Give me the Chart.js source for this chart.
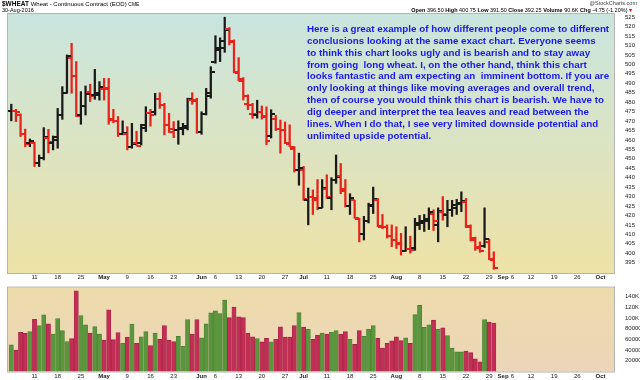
<!DOCTYPE html>
<html><head><meta charset="utf-8">
<script src="https://cdn.jsdelivr.net/npm/chart.js@4.4.0/dist/chart.umd.min.js"></script>
<style>
html,body{margin:0;padding:0;background:#fff;width:640px;height:380px;overflow:hidden;font-family:"Liberation Sans",Arial,sans-serif;}
#wrap{position:relative;width:640px;height:380px;}
canvas{position:absolute;left:0;}
#c1{top:0;}
#c2{top:281px;}
.t{position:absolute;white-space:pre;color:#000;line-height:1;}
#note{position:absolute;left:307px;top:23px;color:#1a1ae8;font:bold 9.8px "Liberation Sans",Arial,sans-serif;line-height:11.85px;white-space:pre;}
</style></head>
<body><div id="wrap">
<canvas id="c1" width="640" height="281" style="width:640px;height:281px"></canvas>
<canvas id="c2" width="640" height="99" style="width:640px;height:99px"></canvas>
<div class="t" style="left:2px;top:1px;font-size:6px"><b style="font-size:6.5px">$WHEAT</b> Wheat - Continuous Contract (EOD) <span style="font-size:5px">CME</span></div>
<div class="t" style="left:2px;top:8px;font-size:5.5px">30-Aug-2016</div>
<div class="t" style="right:3px;top:1px;font-size:5.5px;color:#444">@StockCharts.com</div>
<div class="t" style="right:8px;top:8px;font-size:5.5px"><b>Open</b> 396.50 <b>High</b> 400.75 <b>Low</b> 391.50 <b>Close</b> 392.25 <b>Volume</b> 90.6K <b>Chg</b> -4.75 (-1.20%) <span style="color:#d00">&#9662;</span></div>
<div id="note">Here is a great example of how different people come to different
conclusions looking at the same exact chart. Everyone seems
to think this chart looks ugly and is bearish and to stay away
from going  long wheat. I, on the other hand, think this chart
looks fantastic and am expecting an  imminent bottom. If you are
only looking at things like moving averages and overall trend,
then of course you would think this chart is bearish. We have to
dig deeper and interpret the tea leaves and read between the
lines. When I do that, I see very limited downside potential and
unlimited upside potential.</div>
</div>
<script>
// ---- data (trading days 4-Apr-2016 .. 30-Aug-2016) ----
const priorClose = 474.5;
const opens = [475.5,475.5,473.2,463.0,458.2,458.2,448.0,450.6,461.2,458.2,
461.8,473.2,485.0,503.2,493.9,473.2,478.2,485.2,484.0,484.0,
487.0,487.5,470.5,470.0,463.0,463.0,456.4,458.2,458.2,466.2,
474.5,475.0,481.5,478.5,467.9,464.0,465.0,466.0,466.5,481.3,
481.0,464.4,473.6,483.0,501.5,508.5,512.4,518.8,511.7,495.3,
491.2,478.9,473.6,473.0,475.0,472.0,462.0,471.0,466.0,465.0,
458.0,455.0,444.0,444.0,428.0,430.0,428.0,424.0,434.0,429.0,
439.0,441.0,433.0,425.0,428.0,418.0,410.0,417.0,425.0,428.0,
414.0,414.0,409.0,407.0,405.0,401.0,402.0,403.0,415.0,416.0,
417.0,421.0,415.0,422.0,420.0,423.0,424.0,426.0,427.0,414.0,
407.0,403.0,404.0,406.0,396.5];
const highs = [478.9,476.2,473.8,465.7,460.5,458.8,452.0,466.5,465.6,462.1,
476.7,488.2,505.0,511.2,501.5,485.6,488.6,489.5,497.4,490.9,
492.6,492.6,476.2,472.4,470.1,467.0,468.8,464.6,468.3,477.6,
476.2,484.7,485.0,479.4,474.1,469.7,470.1,468.8,482.1,485.0,
482.1,474.9,487.3,498.8,515.2,514.1,525.0,519.5,513.0,503.6,
493.0,483.9,479.4,481.0,478.0,477.5,476.0,473.0,470.5,469.5,
468.0,456.5,453.0,446.0,434.5,433.5,439.0,439.0,441.5,440.0,
452.0,447.5,439.0,431.5,428.0,418.5,419.5,426.5,435.0,429.0,
420.5,415.0,415.0,414.0,410.5,414.0,409.0,418.5,420.0,420.5,
424.0,423.0,424.0,430.0,428.0,428.0,428.5,432.5,429.0,415.0,
408.5,406.0,424.0,407.5,400.75];
const lows = [470.1,469.7,461.8,456.4,456.4,445.9,445.9,449.4,453.2,454.7,
455.6,470.9,484.7,484.7,472.4,468.3,473.2,480.3,481.5,481.1,
481.1,468.3,469.1,461.8,462.7,454.7,455.6,457.0,457.3,464.4,
467.3,473.2,476.7,462.7,463.9,461.2,457.7,462.7,465.3,478.9,
463.5,463.0,473.2,482.1,500.6,501.5,506.4,510.3,495.5,491.2,
481.1,476.0,471.4,471.5,471.0,457.5,461.0,465.0,453.0,458.0,
456.5,443.0,436.0,428.0,415.0,420.5,423.0,424.0,429.0,423.0,
437.0,431.5,424.5,420.5,418.5,406.0,407.0,416.0,421.0,414.0,
413.0,408.0,403.5,402.5,399.0,401.0,400.0,401.5,412.5,411.5,
412.5,412.0,406.0,417.5,414.0,419.5,420.5,422.0,413.5,406.5,
401.5,400.5,403.0,396.5,391.5];
const closes = [475.5,475.0,463.0,457.8,459.4,448.0,450.3,461.8,459.1,460.1,
473.2,485.0,504.6,493.9,472.7,478.0,484.1,483.3,485.0,488.0,
487.0,470.9,470.0,463.0,463.5,456.4,457.7,457.0,467.9,474.1,
473.2,481.5,478.5,467.9,466.0,465.0,466.5,467.5,481.7,480.8,
464.4,473.6,484.7,496.2,507.8,508.5,518.4,512.4,495.9,492.1,
483.3,478.5,473.6,475.0,472.5,459.5,473.5,466.0,465.0,458.5,
456.5,444.0,445.0,428.5,430.0,429.0,424.0,434.5,430.0,439.0,
440.5,434.0,425.0,429.0,418.5,410.0,417.0,425.5,428.5,414.5,
414.0,409.0,407.0,405.5,401.0,402.0,401.5,416.0,417.0,418.0,
422.0,417.0,422.5,421.0,423.0,425.5,426.5,427.5,414.5,408.0,
403.5,401.0,407.5,397.0,392.25];
const volumes = [49800,39900,73500,71200,74700,97800,85700,106000,89200,70100,
99100,76400,56100,61400,151000,104800,87400,71800,84000,70100,
58400,115300,59600,73000,52700,64200,88600,52700,64800,74700,
48600,71800,60200,85700,59000,56100,66000,47500,97300,70100,
97300,63100,89200,110000,113600,108300,133800,100700,120400,102500,
100700,71800,64800,61400,55500,62000,55500,60200,83400,64200,
64200,85700,110100,82800,78700,60200,68300,71800,70100,73500,
76400,70100,74700,60200,50900,76400,66000,78700,85700,62000,
44000,52700,57300,64800,57900,63100,52700,106500,124000,82800,
87400,96100,78700,81600,67100,44000,37000,37000,38200,35300,
23700,17900,97300,92700,90600];
// axis labels (index = trading-day slot counted from 4-Apr-2016)
const tickIndex = [5,10,15,20,25,30,35,41,44,49,54,59,63,68,73,78,83,88,93,98,103,106,108,112,117,122,127];
const tickText  = ['11','18','25','May','9','16','23','Jun','6','13','20','27','Jul','11','18','25','Aug','8','15','22','29','Sep','6','12','19','26','Oct'];
const monthNames = ['May','Jun','Jul','Aug','Sep','Oct'];
const priceTicks = [395,400,405,410,415,420,425,430,435,440,445,450,455,460,465,470,475,480,485,490,495,500,505,510,515,520,525];
const volTicks = [20000,40000,60000,80000,100000,120000,140000];
const volTickText = ['20000','40000','60000','80000','100K','120K','140K'];

// ---- helpers ----
Chart.defaults.font.family = '"Liberation Sans", Arial, sans-serif';
const up = closes.map((c,i)=> c >= (i ? closes[i-1] : priorClose));
const RED = '#e8231c', BLK = '#1a1a1a';
function tickImg(color, left){
  const c = document.createElement('canvas'); c.width = 8; c.height = 2;
  const g = c.getContext('2d'); g.fillStyle = color; g.fillRect(left ? 0 : 4, 0, 4, 2); return c;
}
const imgs = {oB:tickImg(BLK,true), oR:tickImg(RED,true), cB:tickImg(BLK,false), cR:tickImg(RED,false)};
const X_MIN = -0.71, X_MAX = 129.9;

function bgPlugin(top, bottom){
  return { id:'bg'+top.slice(1), beforeDraw(chart){
    const {ctx, chartArea:a} = chart;
    const g = ctx.createLinearGradient(0, a.top, 0, a.bottom);
    g.addColorStop(0, top); g.addColorStop(1, bottom);
    ctx.save(); ctx.fillStyle = g; ctx.fillRect(a.left, a.top, a.right-a.left, a.bottom-a.top);
    ctx.strokeStyle = '#b4b4b4'; ctx.lineWidth = 1;
    ctx.strokeRect(a.left-0.5, a.top-0.5, a.right-a.left+1, a.bottom-a.top+1);
    ctx.restore();
  }};
}
function xAxis(h){
  return {
    type:'linear', min:X_MIN, max:X_MAX, offset:false,
    afterBuildTicks: s => { s.ticks = tickIndex.map(v => ({value:v})); },
    afterFit: s => { s.height = h; },
    ticks:{ autoSkip:false, maxRotation:0, minRotation:0, padding:1, color:'#222',
      font: ctx => ({size:6, weight: (ctx.tick && monthNames.includes(tickText[tickIndex.indexOf(ctx.tick.value)])) ? 'bold' : 'normal'}),
      callback: v => { const k = tickIndex.indexOf(v); return k < 0 ? '' : tickText[k]; } },
    grid:{ display:true, drawOnChartArea:false, tickLength:0, color:'#999', offset:false },
    border:{ display:false }
  };
}

// ---- price chart ----
new Chart(document.getElementById('c1'), {
  type:'bar',
  data:{ datasets:[
    { type:'bar', data: lows.map((l,i)=>({x:i, y:[l, highs[i]]})),
      backgroundColor: up.map(u => u ? BLK : RED), barThickness:1.6, grouped:false, order:2 },
    { type:'scatter', data: opens.map((o,i)=>({x:i, y:o})),
      pointStyle: ctx => up[ctx.dataIndex] ? imgs.oB : imgs.oR, pointRadius:3, order:1 },
    { type:'scatter', data: closes.map((c,i)=>({x:i, y:c})),
      pointStyle: ctx => up[ctx.dataIndex] ? imgs.cB : imgs.cR, pointRadius:3, order:1 }
  ]},
  options:{
    responsive:false, animation:false, events:[],
    layout:{ padding:{ left:8, top:14, right:0, bottom:0 } },
    plugins:{ legend:{display:false}, tooltip:{enabled:false} },
    scales:{
      x: xAxis(8),
      y: { position:'right', min:389.5, max:526.7,
        afterBuildTicks: s => { s.ticks = priceTicks.map(v => ({value:v})); },
        afterFit: s => { s.width = 26; },
        ticks:{ font:{size:6}, color:'#222', padding:3, autoSkip:false },
        grid:{ display:false }, border:{ display:false } }
    }
  },
  plugins:[bgPlugin('#c9e5df', '#eee2a6')]
});

// ---- volume chart ----
new Chart(document.getElementById('c2'), {
  type:'bar',
  data:{ datasets:[
    { data: volumes.map((v,i)=>({x:i, y:v})),
      backgroundColor: up.map(u => u ? '#5b963f' : '#c22f55'),
      borderColor: up.map(u => u ? '#4c8233' : '#a8244a'),
      borderWidth:{left:0.6,right:0.6,top:1,bottom:0}, borderSkipped:false, barThickness:4.2 }
  ]},
  options:{
    responsive:false, animation:false, events:[],
    layout:{ padding:{ left:8, top:0, right:0, bottom:0 } },
    plugins:{ legend:{display:false}, tooltip:{enabled:false} },
    scales:{
      x: xAxis(8.5),
      y: { position:'right', min:0, max:157000,
        afterBuildTicks: s => { s.ticks = volTicks.map(v => ({value:v})); },
        afterFit: s => { s.width = 26; },
        ticks:{ font:{size:6}, color:'#222', padding:3, autoSkip:false, callback: v => volTickText[volTicks.indexOf(v)] },
        grid:{ display:false }, border:{ display:false } }
    }
  },
  plugins:[bgPlugin('#eddcab', '#ecd5b8')]
});
</script>
</body></html>
